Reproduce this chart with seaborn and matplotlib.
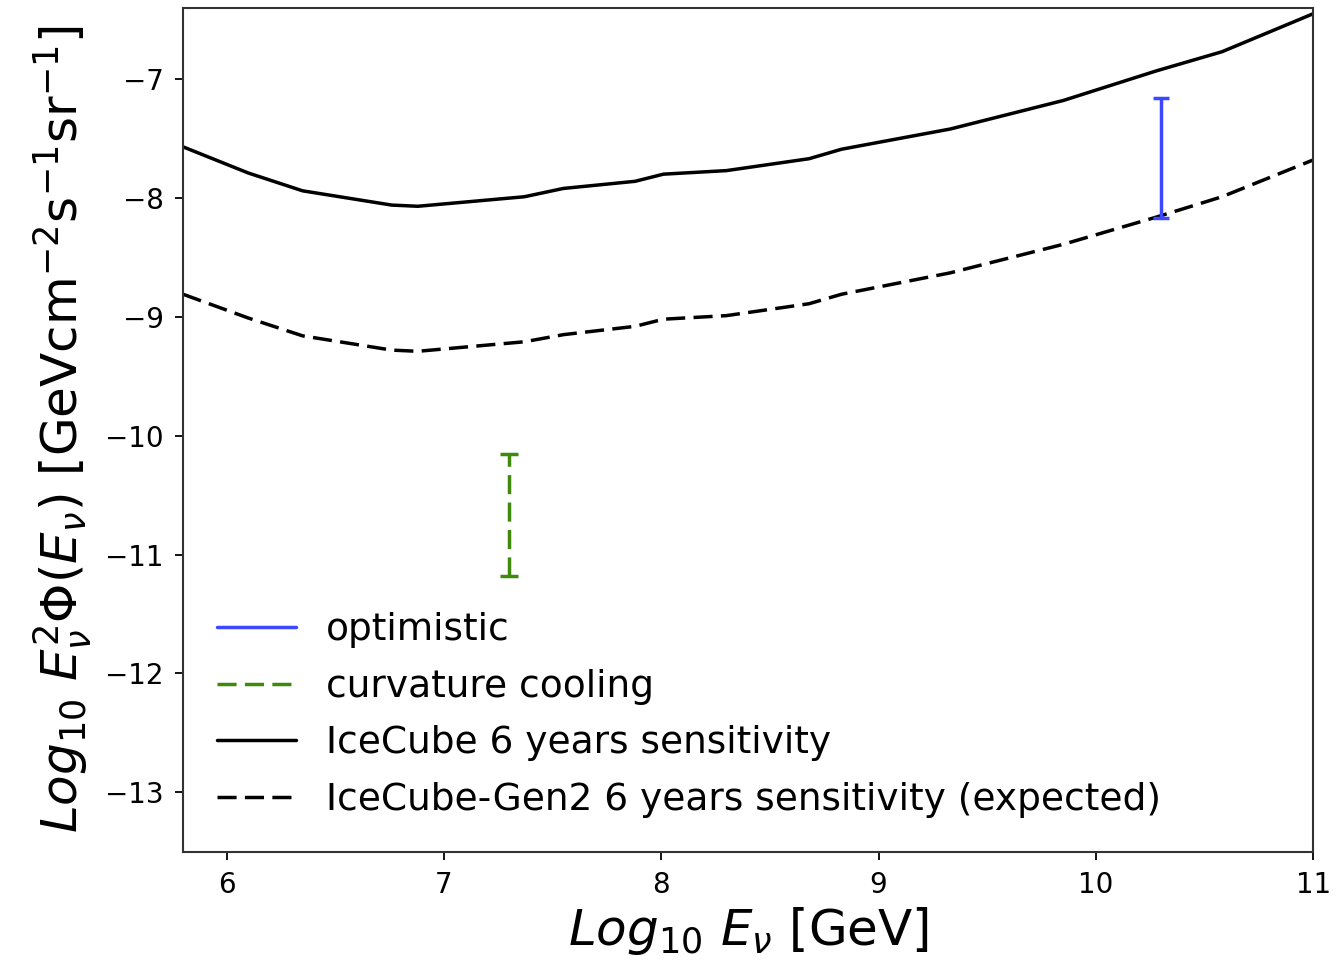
import matplotlib
matplotlib.use("Agg")
import matplotlib.pyplot as plt
import seaborn as sns
import pandas as pd
import numpy as np
from matplotlib.lines import Line2D

# ---- data ----
log_e = [5.8, 6.1, 6.35, 6.76, 6.88, 7.37, 7.55, 7.88, 8.01, 8.30, 8.68, 8.83, 9.33, 9.85, 10.28, 10.58, 11.0]
icecube = [-7.57, -7.79, -7.94, -8.06, -8.07, -7.99, -7.92, -7.86, -7.80, -7.77, -7.67, -7.59, -7.42, -7.18, -6.93, -6.77, -6.45]
gen2 = [-8.81, -9.01, -9.16, -9.28, -9.29, -9.21, -9.15, -9.08, -9.02, -8.99, -8.89, -8.81, -8.63, -8.39, -8.16, -7.99, -7.68]

opt_x = 10.3
opt_range = [-7.16, -8.17]
curv_x = 7.3
curv_range = [-10.15, -11.18]

labels = ["optimistic", "curvature cooling", "IceCube 6 years sensitivity",
          "IceCube-Gen2 6 years sensitivity (expected)"]
xticks = [6, 7, 8, 9, 10, 11]
yticks = [-7, -8, -9, -10, -11, -12, -13]

BLUE = "#3c48ff"
GREEN = "#3f8a0c"
LW = 2.5
DASH = [5.5, 2.4]

sns.set_theme(style="ticks")
plt.rcParams["font.family"] = ["DejaVu Sans"]
plt.rcParams["mathtext.fontset"] = "dejavusans"
plt.rcParams["text.color"] = "black"
plt.rcParams["axes.labelcolor"] = "black"

fig = plt.figure(figsize=(13.36, 9.69), dpi=100)
ax = fig.add_axes([0.137, 0.121, 0.846, 0.871])

df = pd.DataFrame({"x": log_e, "ice": icecube, "gen2": gen2})
sns.lineplot(data=df, x="x", y="ice", ax=ax, color="black", lw=LW, sort=False)
sns.lineplot(data=df, x="x", y="gen2", ax=ax, color="black", lw=LW, sort=False)
ax.lines[-1].set_dashes(DASH)

# error-bar style ranges
def vrange(x, rng, color, dashed, cap):
    mid = (rng[0] + rng[1]) / 2
    half = abs(rng[0] - rng[1]) / 2
    eb = ax.errorbar([x], [mid], yerr=[half], fmt="none", ecolor=color,
                     elinewidth=LW, capsize=cap, capthick=LW)
    if dashed:
        eb[2][0].set_linestyle((0, tuple(DASH)))

vrange(opt_x, opt_range, BLUE, False, 6)
vrange(curv_x, curv_range, GREEN, True, 6.5)

ax.set_xlim(5.8, 11.0)
ax.set_ylim(-13.5, -6.4)
ax.set_xticks(xticks)
ax.set_yticks(yticks)
ax.tick_params(axis="both", labelsize=20, length=6, width=1.3, pad=8,
               colors="black", labelcolor="black")
for s in ax.spines.values():
    s.set_linewidth(1.5)
    s.set_color("#333333")

ax.set_xlabel(r"$Log_{10}\ E_{\nu}$ [GeV]", fontsize=36, labelpad=4)
ax.set_ylabel(r"$Log_{10}\ E_{\nu}^{2}\Phi(E_{\nu})$ [GeVcm$^{-2}$s$^{-1}$sr$^{-1}$]",
              fontsize=36, labelpad=8)

handles = [
    Line2D([], [], color=BLUE, lw=LW),
    Line2D([], [], color=GREEN, lw=LW, dashes=DASH),
    Line2D([], [], color="black", lw=LW),
    Line2D([], [], color="black", lw=LW, dashes=DASH),
]
ax.legend(handles, labels, loc="lower left", frameon=False, fontsize=27,
          handlelength=2.1, handletextpad=0.8, labelspacing=0.55,
          bbox_to_anchor=(0.0, 0.0))

fig.savefig("out.png", dpi=100)
